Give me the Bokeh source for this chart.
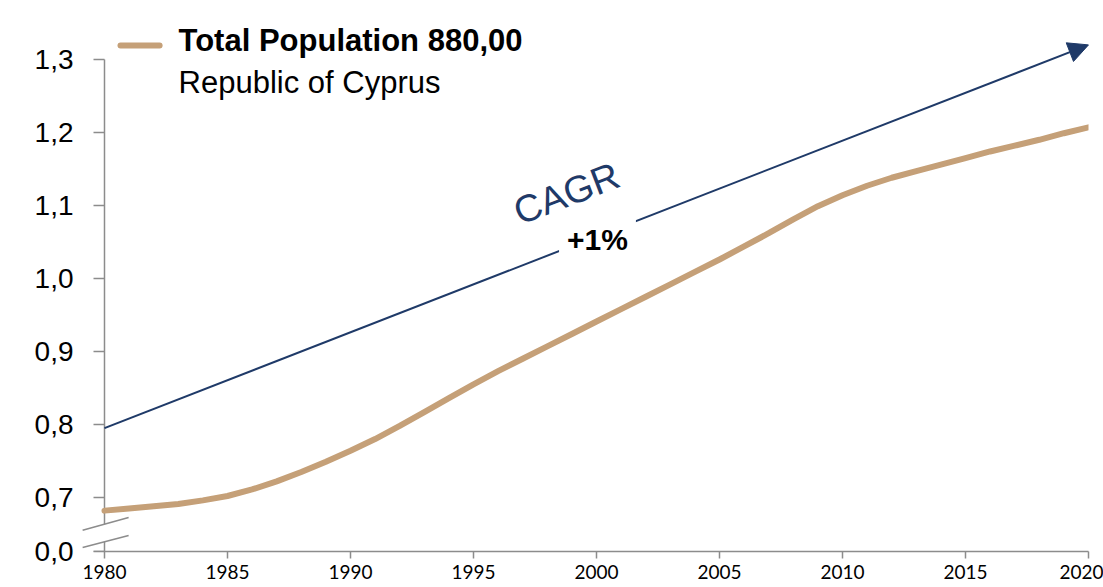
from bokeh.plotting import figure
from bokeh.models import (Range1d, FixedTicker, CustomJSTickFormatter, Label, Arrow, NormalHead)
from bokeh.embed import file_html
from bokeh.resources import INLINE

# ---- data (population, millions) ----
years = list(range(1980, 2021))
population = [0.682, 0.685, 0.688, 0.691, 0.696, 0.702, 0.711, 0.722, 0.735, 0.749,
              0.764, 0.780, 0.798, 0.817, 0.836, 0.855, 0.873, 0.890, 0.907, 0.924,
              0.941, 0.958, 0.975, 0.992, 1.009, 1.026, 1.044, 1.062, 1.081, 1.099,
              1.114, 1.127, 1.138, 1.147, 1.156, 1.165, 1.174, 1.182, 1.190, 1.199,
              1.207]
x_ticks = [1980, 1985, 1990, 1995, 2000, 2005, 2010, 2015, 2020]
y_tick_values = [0.626, 0.7, 0.8, 0.9, 1.0, 1.1, 1.2, 1.3]
y_tick_labels = ["0,0", "0,7", "0,8", "0,9", "1,0", "1,1", "1,2", "1,3"]
cagr_years = [1980, 2020]
cagr_values = [0.795, 1.32]
title_text = "Total Population 880,00"
subtitle_text = "Republic of Cyprus"
cagr_label = "CAGR"
cagr_rate = "+1%"

TAN = "#C5A078"
NAVY = "#1F3A68"
AXIS = "#8C8C8C"

X0 = 1980
Y_LOW, Y_TOP = 0.626, 1.3
TICK_LEN = 0.447  # years (about 11 px)

p = figure(width=1103, height=587, output_backend="svg", toolbar_location=None,
           x_range=Range1d(1979.0244, 2020), y_range=Range1d(Y_LOW, 1.3808),
           min_border_left=80, min_border_right=15, min_border_top=0,
           min_border_bottom=36)
p.outline_line_color = None
p.xgrid.visible = False
p.ygrid.visible = False

# x axis (library axis)
xa = p.xaxis[0]
xa.ticker = FixedTicker(ticks=x_ticks)
xa.bounds = (X0 - TICK_LEN, 2020)
xa.axis_line_color = AXIS
xa.axis_line_width = 1.5
xa.major_tick_line_color = AXIS
xa.major_tick_line_width = 1.5
xa.major_tick_out = 7
xa.major_tick_in = 0
xa.minor_tick_line_color = None
xa.major_label_text_font = "Lato"
xa.major_label_text_font_size = "19px"
xa.major_label_text_color = "#000000"
xa.major_label_standoff = 6

# y axis labels (library axis, line/ticks drawn at x=1980 below)
ya = p.yaxis[0]
ya.ticker = FixedTicker(ticks=y_tick_values)
ya.formatter = CustomJSTickFormatter(args=dict(vals=y_tick_values, labs=y_tick_labels), code="""
let best = 0;
for (let i = 0; i < vals.length; i++) {
  if (Math.abs(vals[i] - tick) < Math.abs(vals[best] - tick)) best = i;
}
return labs[best];
""")
ya.axis_line_color = None
ya.major_tick_line_color = None
ya.major_tick_out = 0
ya.major_tick_in = 0
ya.minor_tick_line_color = None
ya.major_label_text_font = "Liberation Sans"
ya.major_label_text_font_size = "28px"
ya.major_label_text_color = "#000000"
ya.major_label_standoff = 7

# y axis line with break, and its ticks
p.segment(x0=[X0, X0], y0=[Y_LOW, 0.6633], x1=[X0, X0], y1=[0.6393, Y_TOP],
          line_color=AXIS, line_width=1.5)
n = len(y_tick_values)
p.segment(x0=[X0 - TICK_LEN] * n, y0=y_tick_values, x1=[X0] * n, y1=y_tick_values,
          line_color=AXIS, line_width=1.5)
# axis break marks
p.segment(x0=[1979.11, 1979.11], y0=[0.655, 0.6315], x1=[1980.98, 1980.98], y1=[0.6726, 0.648],
          line_color=AXIS, line_width=1.5)

# data line
p.line(years, population, line_color=TAN, line_width=6, line_cap="round", line_join="round")

# CAGR arrow
p.add_layout(Arrow(end=NormalHead(size=20, fill_color=NAVY, line_color=NAVY),
                   x_start=cagr_years[0], y_start=cagr_values[0],
                   x_end=cagr_years[1], y_end=cagr_values[1],
                   line_color=NAVY, line_width=2))

p.add_layout(Label(x=1998.78, y=1.1164, text=cagr_label, angle=21, angle_units="deg",
                   text_align="center", text_baseline="middle",
                   text_font="Liberation Sans", text_font_size="38px", text_color=NAVY))
p.add_layout(Label(x=2000.04, y=1.0534, text=cagr_rate, text_align="center",
                   text_baseline="middle", text_font="Liberation Sans",
                   text_font_size="30px", text_font_style="bold", text_color="#000000",
                   background_fill_color="white", padding=8))

# legend
p.line([1980.65, 1982.24], [1.3192, 1.3192], line_color=TAN, line_width=6, line_cap="round")
p.add_layout(Label(x=1983.01, y=1.326, text=title_text, text_align="left",
                   text_baseline="alphabetic", text_font="Liberation Sans",
                   text_font_size="31px", text_font_style="bold", text_color="#000000"))
p.add_layout(Label(x=1983.01, y=1.2685, text=subtitle_text, text_align="left",
                   text_baseline="alphabetic", text_font="Liberation Sans",
                   text_font_size="31px", text_color="#000000"))

open("out.html", "w").write(file_html(p, INLINE))
